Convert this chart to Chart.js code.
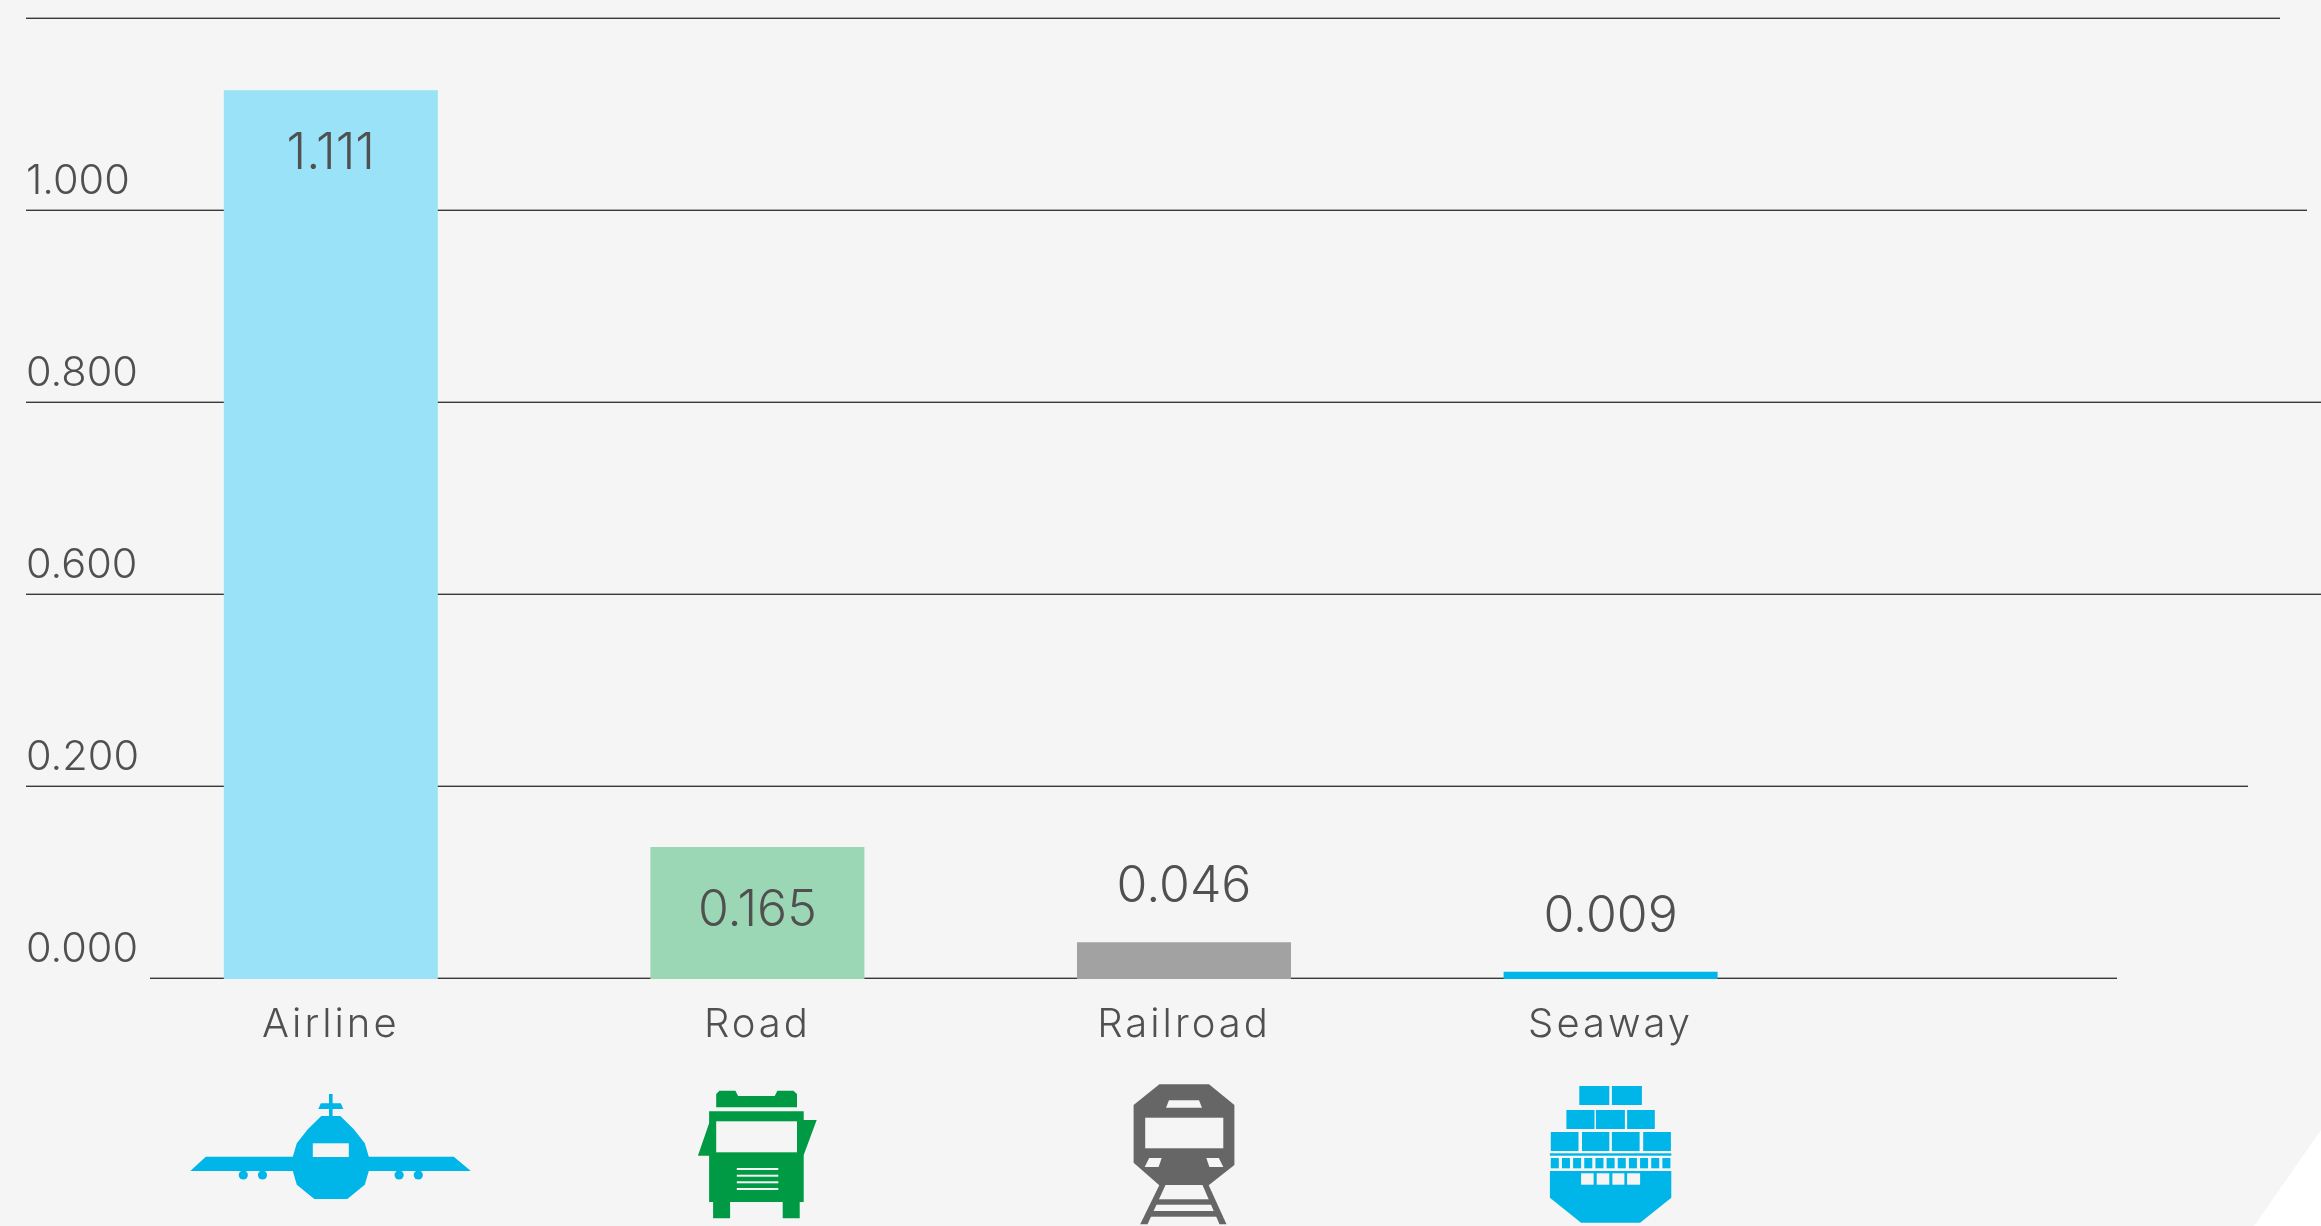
<!DOCTYPE html>
<html>
<head>
<meta charset="utf-8">
<title>Transport modes</title>
<script src="https://cdn.jsdelivr.net/npm/chart.js@4"></script>
<style>
    html, body { margin: 0; padding: 0; background: #ffffff; }
    canvas { display: block; }
</style>
</head>
<body>
<canvas id="modeChart" width="2321" height="1226"></canvas>
<script>
const categories = ['Airline', 'Road', 'Railroad', 'Seaway', ''];
const modeValues = [1.111, 0.165, 0.046, 0.009, null];
const valueLabels = ['1.111', '0.165', '0.046', '0.009', ''];
// the source chart labels its evenly spaced lines like this, skipping 0.400
const yTickLabels = ['0.000', '0.200', '0.600', '0.800', '1.000', ''];
const barColors = ['#99e2f7', '#9bd7b5', '#a2a2a2', '#00b5e8', '#ffffff'];

const PAGE_BG = '#f5f5f5';
const TEXT_COLOR = '#505050';
const FONT_FAMILY = 'Inter, Lato, sans-serif';
const BLUE = '#00b5e8';
const GREEN = '#009a44';
const GREY = '#666666';

// left and right ends of each grid line, bottom line first
const gridStarts = [150, 26, 26, 26, 26, 26];
const gridEnds = [2117, 2248, 2321, 2321, 2307, 2280];

function polygon(ctx, points, color) {
    ctx.fillStyle = color;
    ctx.beginPath();
    points.forEach((p, i) => i ? ctx.lineTo(p[0], p[1]) : ctx.moveTo(p[0], p[1]));
    ctx.closePath();
    ctx.fill();
}

function box(ctx, x0, y0, x1, y1, color) {
    ctx.fillStyle = color;
    ctx.fillRect(x0, y0, x1 - x0, y1 - y0);
}

function drawPlane(ctx) {
    box(ctx, -1.8, 4, 1.8, 27, BLUE);
    polygon(ctx, [[-10, 13.3], [10, 13.3], [12.5, 19], [-12.5, 19]], BLUE);
    polygon(ctx, [[-9.5, 26], [9.5, 26], [23, 39.3], [34, 53.3], [38, 66.7], [123, 66.7], [140, 81], [38, 81],
        [34, 94.7], [16.5, 109], [-16.5, 109], [-34, 94.7], [-38, 81], [-140.5, 81], [-125, 66.7], [-38, 66.7],
        [-34, 53.3], [-23, 39.3]], BLUE);
    box(ctx, -18, 53.3, 18, 67, PAGE_BG);
    ctx.fillStyle = BLUE;
    [-87.5, -68.3, 68.3, 87.5].forEach(dx => {
        ctx.beginPath();
        ctx.ellipse(dx, 85, 4.6, 4.6, 0, 0, Math.PI * 2);
        ctx.fill();
    });
}

function drawTruck(ctx) {
    ctx.translate(-1, 0);
    polygon(ctx, [[-40.2, 17.3], [-40.2, 4], [-37, 0.7], [-21, 0.7], [-18.3, 6], [18.3, 6], [21, 0.7], [37, 0.7],
        [40.6, 4], [40.6, 17.3]], GREEN);
    polygon(ctx, [[-47.3, 21.3], [47.3, 21.3], [47.3, 30], [60.3, 30], [47.3, 65], [47.3, 112], [43.3, 112],
        [43.3, 128.3], [26.3, 128.3], [26.3, 112], [-26.3, 112], [-26.3, 128.3], [-43.3, 128.3], [-43.3, 112],
        [-47.3, 112], [-47.3, 65.7], [-58.5, 65.7], [-47.3, 33.3]], GREEN);
    box(ctx, -40.2, 31.3, 40.6, 62.3, PAGE_BG);
    [78, 84.7, 91.3, 98].forEach(y => box(ctx, -19.6, y, 21.9, y + 2, PAGE_BG));
}

function drawTrain(ctx) {
    polygon(ctx, [[-24.6, -5.7], [25, -5.7], [50.4, 15], [50.4, 75], [25, 95], [-25, 95], [-50.4, 72.7], [-50.4, 15]], GREY);
    polygon(ctx, [[-15, 10.3], [15, 10.3], [18, 17.7], [-18, 17.7]], PAGE_BG);
    box(ctx, -38.8, 27.7, 39.3, 58.3, PAGE_BG);
    polygon(ctx, [[-34.8, 68], [-22.3, 68], [-25.4, 77], [-39.3, 77]], PAGE_BG);
    polygon(ctx, [[22.3, 68], [34.8, 68], [39.3, 77], [25.4, 77]], PAGE_BG);
    polygon(ctx, [[-24.6, 95], [-18.5, 95], [-36.5, 134.3], [-43.8, 134.3]], GREY);
    polygon(ctx, [[18.5, 95], [24.6, 95], [42.5, 134.3], [35.5, 134.3]], GREY);
    box(ctx, -28, 109.3, 28, 114.7, GREY);
    box(ctx, -35, 121, 35, 126.7, GREY);
}

function drawShip(ctx) {
    [[-31.3, -1.3], [1.3, 31.3]].forEach(r => box(ctx, r[0], -4, r[1], 15, BLUE));
    [[-44.2, -16.1], [-14.7, 14.3], [16.5, 44.2]].forEach(r => box(ctx, r[0], 20, r[1], 39, BLUE));
    [[-59.8, -32.1], [-28.6, -1.3], [1.3, 29], [32.6, 60.3]].forEach(r => box(ctx, r[0], 42, r[1], 61, BLUE));
    box(ctx, -60.7, 63.3, 60.7, 65.7, BLUE);
    for (let i = -5; i <= 5; i++) {
        box(ctx, i * 11.16 - 4, 68, i * 11.16 + 4, 78.3, BLUE);
    }
    polygon(ctx, [[-60.7, 81], [60.7, 81], [60.7, 107.7], [29.5, 132.7], [-29.5, 132.7], [-60.7, 107.7]], BLUE);
    [[-29.5, -17], [-13.9, -1.3], [1.8, 13.8], [16.5, 29.5]].forEach(r => box(ctx, r[0], 83.3, r[1], 94.7, PAGE_BG));
}

const iconDrawers = [drawPlane, drawTruck, drawTrain, drawShip];

// page background with the white cut corner at the bottom right
const backgroundPlugin = {
    id: 'pageBackground',
    beforeDraw(chart) {
        const { ctx, width, height } = chart;
        ctx.save();
        ctx.fillStyle = '#ffffff';
        ctx.fillRect(0, 0, width, height);
        polygon(ctx, [[0, 0], [width, 0], [width, 1130], [2254, height], [0, height]], PAGE_BG);
        ctx.restore();
    }
};

// each grid line has its own length in the source, so the scale's grid can't draw them
const gridPlugin = {
    id: 'unevenGrid',
    beforeDatasetsDraw(chart) {
        const { ctx, scales } = chart;
        ctx.save();
        scales.y.ticks.forEach((tick, i) => {
            const y = Math.round(scales.y.getPixelForValue(tick.value)) - 1;
            box(ctx, gridStarts[i], y - 1, gridEnds[i], y, '#ababab');
            box(ctx, gridStarts[i], y, gridEnds[i], y + 1, '#383838');
        });
        ctx.restore();
    }
};

const valueLabelPlugin = {
    id: 'valueLabels',
    afterDatasetsDraw(chart) {
        const { ctx } = chart;
        const bars = chart.getDatasetMeta(0).data;
        ctx.save();
        ctx.font = '300 50px ' + FONT_FAMILY;
        ctx.fillStyle = TEXT_COLOR;
        ctx.textAlign = 'center';
        ctx.textBaseline = 'middle';
        bars.forEach((bar, i) => {
            if (modeValues[i] === null) return;
            // tall bars carry the label inside, short ones above
            const y = modeValues[i] > 0.1 ? bar.y + 64 : bar.y - 55;
            ctx.fillText(valueLabels[i], bar.x, y);
        });
        ctx.restore();
    }
};

// category names are spaced out in the source, chart.js has no option for that
const letterSpacingPlugin = {
    id: 'categoryLetterSpacing',
    afterLayout(chart) {
        const scale = chart.scales.x;
        if (scale.spacedLabels) return;
        const drawLabels = scale.drawLabels;
        scale.drawLabels = function (area) {
            chart.ctx.save();
            chart.ctx.letterSpacing = '3px';
            drawLabels.call(scale, area);
            chart.ctx.restore();
        };
        scale.spacedLabels = true;
    }
};

const iconPlugin = {
    id: 'modeIcons',
    afterDraw(chart) {
        const { ctx, scales } = chart;
        iconDrawers.forEach((drawIcon, i) => {
            ctx.save();
            ctx.translate(scales.x.getPixelForValue(i), 1090);
            drawIcon(ctx);
            ctx.restore();
        });
    }
};

new Chart(document.getElementById('modeChart'), {
    type: 'bar',
    data: {
        labels: categories,
        datasets: [{
            data: modeValues,
            backgroundColor: barColors,
            borderWidth: 0,
            barPercentage: 0.5016,
            categoryPercentage: 1
        }]
    },
    options: {
        responsive: false,
        animation: false,
        layout: { padding: { left: 26, right: 70.5, top: 19, bottom: 0 } },
        plugins: { legend: { display: false }, tooltip: { enabled: false } },
        scales: {
            x: {
                grid: { display: false },
                border: { display: false },
                ticks: {
                    color: TEXT_COLOR,
                    font: { family: FONT_FAMILY, size: 40, weight: '300' },
                    padding: 14,
                    maxRotation: 0
                },
                afterFit(scale) {
                    scale.height = 247;
                    scale.paddingLeft = 0;
                    scale.paddingRight = 0;
                }
            },
            y: {
                min: 0,
                max: 1.2,
                grid: { display: false },
                border: { display: false },
                ticks: {
                    stepSize: 0.24,
                    color: TEXT_COLOR,
                    font: { family: FONT_FAMILY, size: 41.5, weight: '300' },
                    // mirror keeps the scale from clipping labels that run past its box
                    mirror: true,
                    crossAlign: 'near',
                    padding: -91.5,
                    labelOffset: -29,
                    callback: (value, index) => yTickLabels[index]
                },
                afterFit(scale) {
                    scale.width = 91.5;
                    scale.paddingTop = 0;
                    scale.paddingBottom = 0;
                }
            }
        }
    },
    plugins: [backgroundPlugin, gridPlugin, letterSpacingPlugin, valueLabelPlugin, iconPlugin]
});
</script>
</body>
</html>
